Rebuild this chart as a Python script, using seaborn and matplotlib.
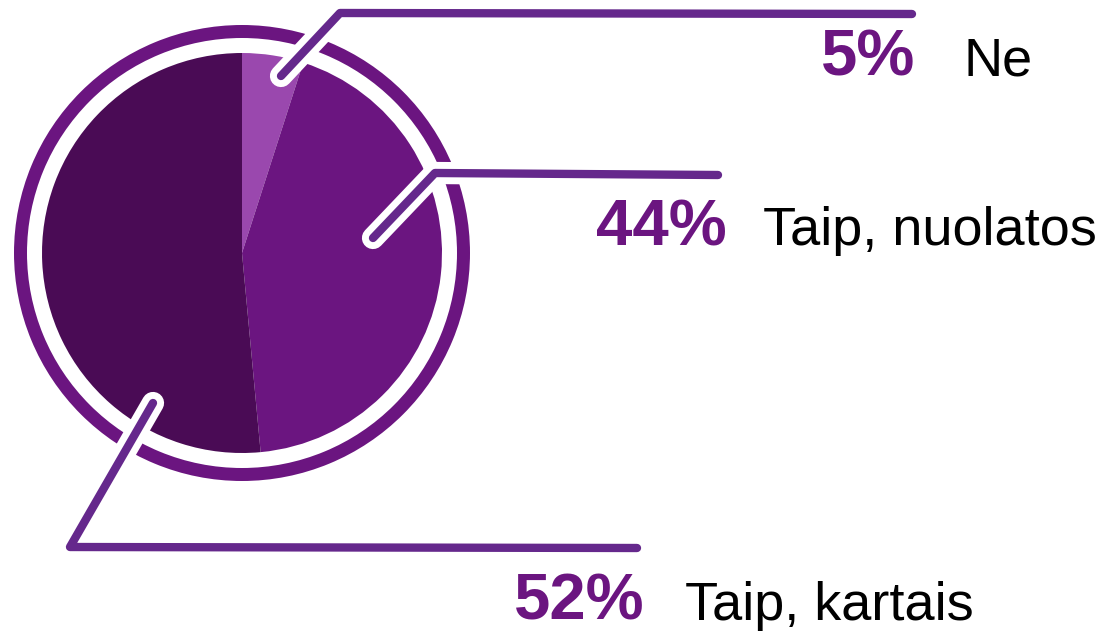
import matplotlib
matplotlib.use("Agg")
import matplotlib.pyplot as plt
import seaborn as sns

# datos del grafico
labels = ["Ne", "Taip, nuolatos", "Taip, kartais"]
values = [5, 44, 52]
pct_text = ["5%", "44%", "52%"]
slice_colors = ["#9a48ae", "#6b1580", "#4a0b55"]

ring_color = "#6b1580"
line_color = "#65288c"

sns.set_theme(style="white")
plt.rcParams["font.family"] = ["Liberation Sans", "DejaVu Sans"]

W, H = 1118, 632
fig = plt.figure(figsize=(W / 100, H / 100), dpi=100)
ax = fig.add_axes([0, 0, 1, 1])

def Y(y):  # pixeles desde arriba -> coordenadas del eje
    return H - y

cx, cy = 242, Y(253)

# pastel principal
ax.pie(values, colors=slice_colors, startangle=90, counterclock=False,
       center=(cx, cy), radius=200, wedgeprops=dict(linewidth=0))
# anillo exterior
ax.pie([1], colors=[ring_color], center=(cx, cy), radius=228,
       wedgeprops=dict(width=13, linewidth=0))

# lineas guia (x, y en pixeles)
leaders = [
    [(281, 76), (340, 13), (912, 14)],
    [(373, 238), (435, 173), (718, 175)],
    [(153, 403), (70, 547), (637, 548)],
]
for pts in leaders:
    xs = [p[0] for p in pts]
    ys = [Y(p[1]) for p in pts]
    ax.plot(xs, ys, color="white", lw=16, solid_capstyle="round",
            solid_joinstyle="round", zorder=5)
    ax.plot(xs, ys, color=line_color, lw=6, solid_capstyle="round",
            solid_joinstyle="round", zorder=6)

# textos
text_pos = [(915, 963, 75), (727, 763, 245), (645, 685, 620)]
for (xr, xl, yb), p, lab in zip(text_pos, pct_text, labels):
    ax.text(xr, Y(yb), p, ha="right", va="baseline", fontsize=47,
            fontweight="bold", color=ring_color, zorder=7)
    ax.text(xl, Y(yb), lab, ha="left", va="baseline", fontsize=39,
            color="black", zorder=7)

ax.set_xlim(0, W)
ax.set_ylim(0, H)
ax.set_aspect("equal")
ax.axis("off")

fig.savefig("out.png", dpi=100)
